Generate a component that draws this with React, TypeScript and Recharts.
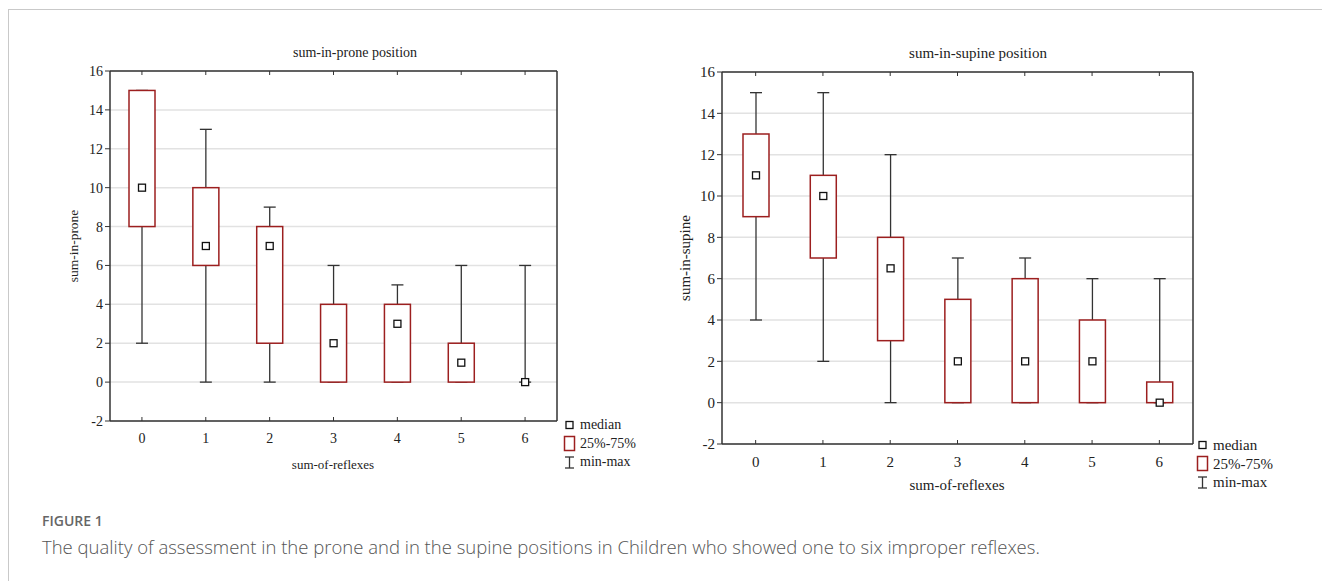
import React from "react";
import { ComposedChart, Bar, XAxis, YAxis, CartesianGrid } from "recharts";

// sum-of-reflexes categories
const categories = ["0", "1", "2", "3", "4", "5", "6"];

// sum-in-prone
const proneMin = [2, 0, 0, 0, 0, 0, 0];
const proneQ1 = [8, 6, 2, 0, 0, 0, 0];
const proneMedian = [10, 7, 7, 2, 3, 1, 0];
const proneQ3 = [15, 10, 8, 4, 4, 2, 0];
const proneMax = [15, 13, 9, 6, 5, 6, 6];

// sum-in-supine
const supineMin = [4, 2, 0, 0, 0, 0, 0];
const supineQ1 = [9, 7, 3, 0, 0, 0, 0];
const supineMedian = [11, 10, 6.5, 2, 2, 2, 0];
const supineQ3 = [13, 11, 8, 5, 6, 4, 1];
const supineMax = [15, 15, 12, 7, 7, 6, 6];

const yTicks = [-2, 0, 2, 4, 6, 8, 10, 12, 14, 16];

const SERIF = "'Liberation Serif', 'DejaVu Serif', serif";
const SANS = "'Open Sans', 'Noto Sans', sans-serif";
const BOX_RED = "#9c1f1f";
const WHISKER = "#333333";

const buildRows = (
  min: number[],
  q1: number[],
  med: number[],
  q3: number[],
  max: number[]
) =>
  categories.map((cat, i) => ({
    cat,
    min: min[i],
    q1: q1[i],
    median: med[i],
    q3: q3[i],
    max: max[i],
  }));

const proneRows = buildRows(proneMin, proneQ1, proneMedian, proneQ3, proneMax);
const supineRows = buildRows(supineMin, supineQ1, supineMedian, supineQ3, supineMax);

const EmptyTick = () => <g />;

// one bar spans min..max; the rest of the box plot is placed from its geometry
const BoxShape = (props: any) => {
  const { x, y, width, height, payload } = props;
  if (!payload) return null;
  const top = Math.min(y, y + height);
  const span = Math.abs(height);
  const range = payload.max - payload.min || 1;
  const py = (v: number) => top + ((payload.max - v) / range) * span;
  const cx = x + width / 2;
  const cap = 6;
  const m = 3.5;
  return (
    <g>
      <line x1={cx} x2={cx} y1={py(payload.max)} y2={py(payload.min)} stroke={WHISKER} strokeWidth={1.3} />
      <line x1={cx - cap} x2={cx + cap} y1={py(payload.max)} y2={py(payload.max)} stroke={WHISKER} strokeWidth={1.3} />
      <line x1={cx - cap} x2={cx + cap} y1={py(payload.min)} y2={py(payload.min)} stroke={WHISKER} strokeWidth={1.3} />
      {payload.q3 > payload.q1 && (
        <rect
          x={x}
          y={py(payload.q3)}
          width={width}
          height={py(payload.q1) - py(payload.q3)}
          fill="#ffffff"
          stroke={BOX_RED}
          strokeWidth={1.5}
        />
      )}
      <rect
        x={cx - m}
        y={py(payload.median) - m}
        width={m * 2}
        height={m * 2}
        fill="#ffffff"
        stroke="#111111"
        strokeWidth={1.3}
      />
    </g>
  );
};

interface BoxChartProps {
  rows: any[];
  left: number;
  top: number;
  width: number;
  height: number;
  fontSize: number;
}

const BoxChart: React.FC<BoxChartProps> = ({ rows, left, top, width, height, fontSize }) => (
  <div style={{ position: "absolute", left, top }}>
    <ComposedChart
      width={width}
      height={height}
      data={rows}
      margin={{ top: 10, right: 3, bottom: 10, left: 10 }}
    >
      <CartesianGrid vertical={false} stroke="#e2e2e2" strokeWidth={1.5} />
      <XAxis
        dataKey="cat"
        height={30}
        tickLine={false}
        tickSize={6}
        tickMargin={6}
        axisLine={{ stroke: "#333", strokeWidth: 1.5 }}
        tick={{ fontFamily: SERIF, fontSize, fill: "#222" }}
      />
      <XAxis
        xAxisId="top"
        dataKey="cat"
        orientation="top"
        mirror
        tick={EmptyTick}
        tickSize={4}
        tickLine={{ stroke: "#333" }}
        axisLine={{ stroke: "#333", strokeWidth: 1.5 }}
      />
      <XAxis
        xAxisId="inner"
        dataKey="cat"
        orientation="bottom"
        mirror
        tick={EmptyTick}
        tickSize={4}
        tickLine={{ stroke: "#333" }}
        axisLine={false}
      />
      <YAxis
        type="number"
        domain={[-2, 16]}
        ticks={yTicks}
        interval={0}
        width={60}
        tickSize={5}
        tickMargin={2}
        tickLine={{ stroke: "#333" }}
        axisLine={{ stroke: "#333", strokeWidth: 1.5 }}
        tick={{ fontFamily: SERIF, fontSize, fill: "#222" }}
      />
      <YAxis
        yAxisId="right"
        type="number"
        orientation="right"
        domain={[-2, 16]}
        ticks={yTicks}
        mirror
        tick={EmptyTick}
        tickSize={4}
        tickLine={{ stroke: "#333" }}
        axisLine={{ stroke: "#333", strokeWidth: 1.5 }}
      />
      <Bar
        dataKey={(d: any) => [d.min, d.max]}
        barSize={26}
        shape={<BoxShape />}
        isAnimationActive={false}
      />
    </ComposedChart>
  </div>
);

const Label: React.FC<{ x: number; y: number; size?: number; rotate?: boolean; children: React.ReactNode }> = ({
  x,
  y,
  size = 13.5,
  rotate,
  children,
}) => (
  <div
    style={{
      position: "absolute",
      left: x,
      top: y,
      transform: `translate(-50%, -50%)${rotate ? " rotate(-90deg)" : ""}`,
      fontFamily: SERIF,
      fontSize: size,
      color: "#222",
      whiteSpace: "nowrap",
      lineHeight: 1,
    }}
  >
    {children}
  </div>
);

const LegendBlock: React.FC<{ left: number; top: number; gap: number; size: number }> = ({
  left,
  top,
  gap,
  size,
}) => {
  const textStyle: React.CSSProperties = {
    position: "absolute",
    left: 16,
    fontFamily: SERIF,
    fontSize: size,
    color: "#222",
    lineHeight: 1,
    whiteSpace: "nowrap",
    transform: "translateY(-50%)",
  };
  return (
    <div style={{ position: "absolute", left, top }}>
      <svg style={{ position: "absolute", left: 0, top: -8, overflow: "visible" }} width={12} height={gap * 3}>
        <rect x={2} y={4.5} width={7} height={7} fill="#fff" stroke="#111" strokeWidth={1.3} />
        <rect x={0.5} y={gap + 1} width={10} height={14} fill="#fff" stroke={BOX_RED} strokeWidth={1.5} />
        <line x1={5.5} x2={5.5} y1={gap * 2 + 3} y2={gap * 2 + 14} stroke={WHISKER} strokeWidth={1.3} />
        <line x1={1} x2={10} y1={gap * 2 + 3} y2={gap * 2 + 3} stroke={WHISKER} strokeWidth={1.3} />
        <line x1={1} x2={10} y1={gap * 2 + 14} y2={gap * 2 + 14} stroke={WHISKER} strokeWidth={1.3} />
      </svg>
      <div style={{ ...textStyle, top: 0 }}>median</div>
      <div style={{ ...textStyle, top: gap }}>25%-75%</div>
      <div style={{ ...textStyle, top: gap * 2 }}>min-max</div>
    </div>
  );
};

export default function App() {
  return (
    <div
      style={{
        position: "absolute",
        left: 0,
        top: 0,
        width: 1322,
        height: 581,
        overflow: "hidden",
        background: "#fff",
      }}
    >
      <div
        style={{
          position: "absolute",
          left: 8,
          top: 9,
          width: 1322,
          height: 600,
          borderTop: "1.5px solid #c9c9c9",
          borderLeft: "1.5px solid #c9c9c9",
        }}
      />

      <Label x={355} y={53} size={14}>sum-in-prone position</Label>
      <Label x={74} y={246} rotate>sum-in-prone</Label>
      <Label x={333} y={464} size={13}>sum-of-reflexes</Label>
      <BoxChart rows={proneRows} left={40} top={61} width={520} height={400} fontSize={14} />
      <LegendBlock left={564} top={425} gap={18.5} size={14} />

      <Label x={978} y={53} size={15}>sum-in-supine position</Label>
      <Label x={685} y={258} size={15} rotate>sum-in-supine</Label>
      <Label x={957} y={485} size={15}>sum-of-reflexes</Label>
      <BoxChart rows={supineRows} left={652} top={62} width={544} height={422} fontSize={15} />
      <LegendBlock left={1197} top={445} gap={18.5} size={15} />

      <div
        style={{
          position: "absolute",
          left: 42,
          top: 514,
          fontFamily: SANS,
          fontWeight: 600,
          fontSize: 14,
          color: "#666",
          lineHeight: 1,
        }}
      >
        FIGURE 1
      </div>
      <div
        style={{
          position: "absolute",
          left: 42,
          top: 536,
          fontFamily: SANS,
          fontWeight: 300,
          fontSize: 18.5,
          color: "#555",
          lineHeight: 1.2,
          whiteSpace: "nowrap",
        }}
      >
        The quality of assessment in the prone and in the supine positions in Children who showed one to six improper reflexes.
      </div>
    </div>
  );
}
